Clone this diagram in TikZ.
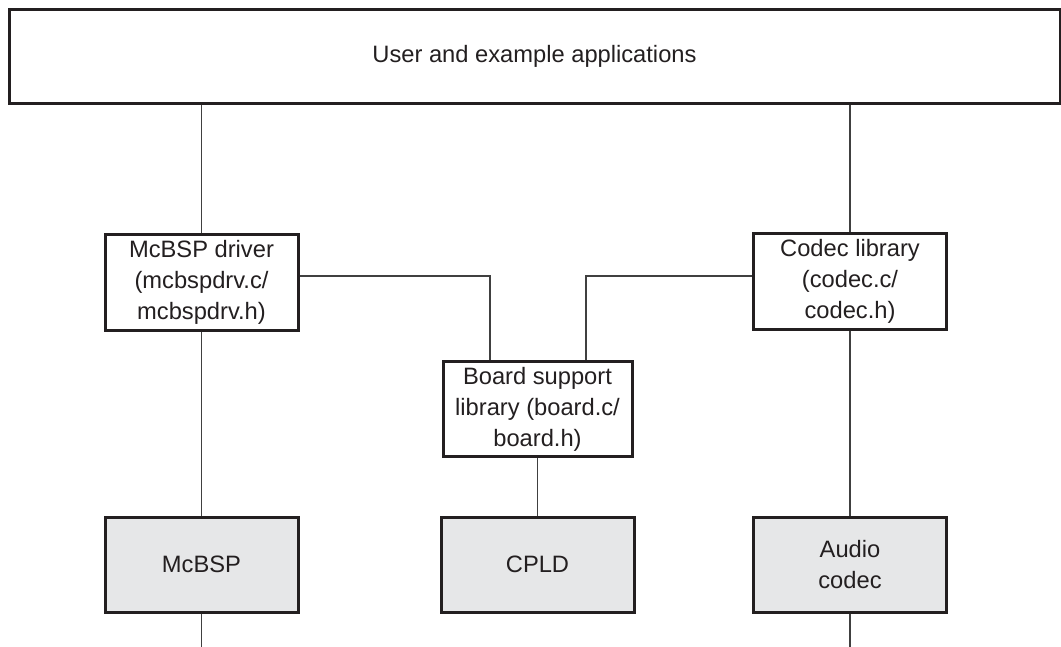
\documentclass[tikz,border=0pt]{standalone}
\usepackage{fontspec}
\setmainfont{Liberation Sans}
\definecolor{ink}{HTML}{231F20}
\definecolor{boxfill}{HTML}{E6E7E8}
\definecolor{wire}{HTML}{404040}
\begin{document}
\begin{tikzpicture}[x=1pt,y=-1pt,
  box/.style={draw=ink, line width=3pt, inner sep=0pt, align=center, text=ink,
    font=\fontsize{23.7}{31}\selectfont},
  swbox/.style={box, fill=white, minimum width=193pt, minimum height=95pt},
  hwbox/.style={box, fill=boxfill, minimum width=193pt, minimum height=95pt},
  wire/.style={draw=wire, line width=1.1pt}]
\useasboundingbox (0,0) rectangle (1061,647);
\node[box, fill=white, minimum width=1051pt, minimum height=94pt] (app) at (534.5,56.5) {User and example applications};
\node[swbox] (drv) at (201.5,282.5) {McBSP driver\\(mcbspdrv.c/\\mcbspdrv.h)};
\node[swbox] (codlib) at (850,281.5) {Codec library\\(codec.c/\\codec.h)};
\node[swbox, minimum width=189pt] (bsl) at (537.5,409) {Board support\\library (board.c/\\board.h)};
\node[hwbox] (mcbsp) at (201.5,564.5) {McBSP};
\node[hwbox] (cpld) at (537.5,564.5) {CPLD};
\node[hwbox] (audio) at (850,564.5) {Audio\\codec};
\coordinate (mcbspout) at (201.5,647);
\coordinate (audioout) at (850,647);
\path[wire] (app.south -| drv.north) -- (drv.north);
\path[wire] (app.south -| codlib.north) -- (codlib.north);
\path[wire] ([yshift=6.5pt]drv.east) -| ([xshift=-47.5pt]bsl.north);
\path[wire] ([yshift=5.5pt]codlib.west) -| ([xshift=48.5pt]bsl.north);
\path[wire] (drv.south) -- (mcbsp.north);
\path[wire] (codlib.south) -- (audio.north);
\path[wire] (bsl.south) -- (cpld.north);
\path[wire] (mcbsp.south) -- (mcbspout);
\path[wire] (audio.south) -- (audioout);
\end{tikzpicture}
\end{document}
